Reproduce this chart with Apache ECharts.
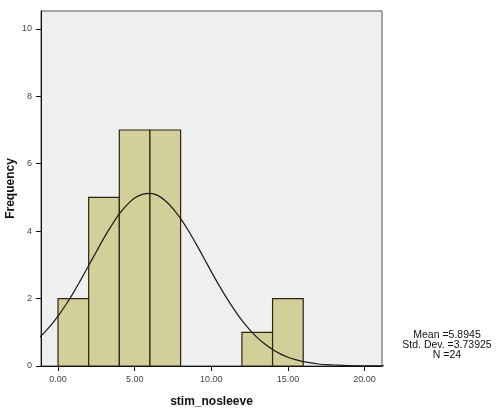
<!DOCTYPE html>
<html>
<head>
<meta charset="utf-8">
<script src="https://cdn.jsdelivr.net/npm/echarts@6/dist/echarts.min.js"></script>
<style>
  html, body { margin: 0; padding: 0; background: #fff; }
  #chart { width: 498px; height: 413px; }
</style>
</head>
<body>
<div id="chart"></div>
<script>
// histogram bins (start of each bin, width 2)
const binStarts = [0, 2, 4, 6, 12, 14]
const binCounts = [2, 5, 7, 7, 1, 2]
const binWidth = 2

// normal curve (every half unit)
const curveX = [-1.5, -1, -0.5, 0, 0.5, 1, 1.5, 2, 2.5, 3, 3.5, 4, 4.5, 5, 5.5, 6, 6.5, 7, 7.5, 8, 8.5, 9, 9.5, 10,
  10.5, 11, 11.5, 12, 12.5, 13, 13.5, 14, 14.5, 15, 15.5, 16, 16.5, 17, 17.5, 18, 18.5, 19, 19.5, 20, 20.5, 21, 21.5]
const curveY = [0.73, 0.94, 1.19, 1.48, 1.81, 2.17, 2.57, 2.98, 3.39, 3.80, 4.17, 4.51, 4.78, 4.98, 5.09, 5.12, 5.06, 4.90, 4.67, 4.37, 4.02, 3.63, 3.22, 2.80,
  2.40, 2.02, 1.67, 1.35, 1.08, 0.84, 0.65, 0.49, 0.36, 0.26, 0.19, 0.13, 0.09, 0.06, 0.04, 0.03, 0.02, 0.01, 0.007, 0.004, 0.003, 0.002, 0.001]

const xTicks = [0, 5, 10, 15, 20]
const yTicks = [0, 2, 4, 6, 8, 10]
const statsLines = ['Mean =5.8945', 'Std. Dev. =3.73925', 'N =24']

const chart = echarts.init(document.getElementById('chart'))

const barData = binStarts.map((s, i) => [s, s + binWidth, binCounts[i]])
const curveData = curveX.map((x, i) => [x, curveY[i]])

const option = {
  animation: false,
  grid: {
    left: 41,
    top: 11,
    right: 116,
    bottom: 47,
    outerBoundsMode: 'none',
    containLabel: false,
    show: true,
    backgroundColor: '#efefef',
    borderColor: '#555',
    borderWidth: 1
  },
  xAxis: {
    type: 'value',
    min: -1.11,
    max: 21.14,
    name: 'stim_nosleeve',
    nameLocation: 'middle',
    nameGap: 30,
    nameMoveOverlap: false,
    nameTextStyle: { fontFamily: 'Liberation Sans', fontWeight: 'bold', fontSize: 12, color: '#111' },
    axisLine: { show: true, onZero: false, lineStyle: { color: '#111', width: 1 } },
    axisTick: { show: true, customValues: xTicks, length: 5, lineStyle: { color: '#111' } },
    axisLabel: {
      customValues: xTicks,
      formatter: v => v.toFixed(2),
      fontFamily: 'Liberation Sans',
      fontSize: 9,
      color: '#444',
      margin: 9
    },
    splitLine: { show: false }
  },
  yAxis: {
    type: 'value',
    min: 0,
    max: 10.53,
    name: 'Frequency',
    nameLocation: 'middle',
    nameGap: 24,
    nameMoveOverlap: false,
    nameRotate: 90,
    nameTextStyle: { fontFamily: 'Liberation Sans', fontWeight: 'bold', fontSize: 12, color: '#111' },
    axisLine: { show: true, onZero: false, lineStyle: { color: '#111', width: 1 } },
    axisTick: { show: true, customValues: yTicks, length: 5, lineStyle: { color: '#111' } },
    axisLabel: {
      customValues: yTicks,
      fontFamily: 'Liberation Sans',
      fontSize: 9,
      color: '#444',
      margin: 9
    },
    splitLine: { show: false }
  },
  graphic: statsLines.map((t, i) => ({
    type: 'text',
    x: 447,
    y: 330 + i * 10,
    style: {
      text: t,
      align: 'center',
      fontFamily: 'Liberation Sans',
      fontSize: 10.5,
      fill: '#111'
    }
  })),
  series: [
    {
      type: 'custom',
      data: barData,
      clip: true,
      renderItem: (params, api) => {
        const p0 = api.coord([api.value(0), api.value(2)])
        const p1 = api.coord([api.value(1), 0])
        return {
          type: 'rect',
          shape: { x: p0[0], y: p0[1], width: p1[0] - p0[0], height: p1[1] - p0[1] },
          style: { fill: '#d3cf98', stroke: '#2a2618', lineWidth: 1.2 }
        }
      },
      z: 2
    },
    {
      type: 'line',
      data: curveData,
      smooth: 0.3,
      showSymbol: false,
      clip: true,
      lineStyle: { color: '#1a1a1a', width: 1.2 },
      z: 3
    }
  ]
}

chart.setOption(option)
</script>
</body>
</html>
